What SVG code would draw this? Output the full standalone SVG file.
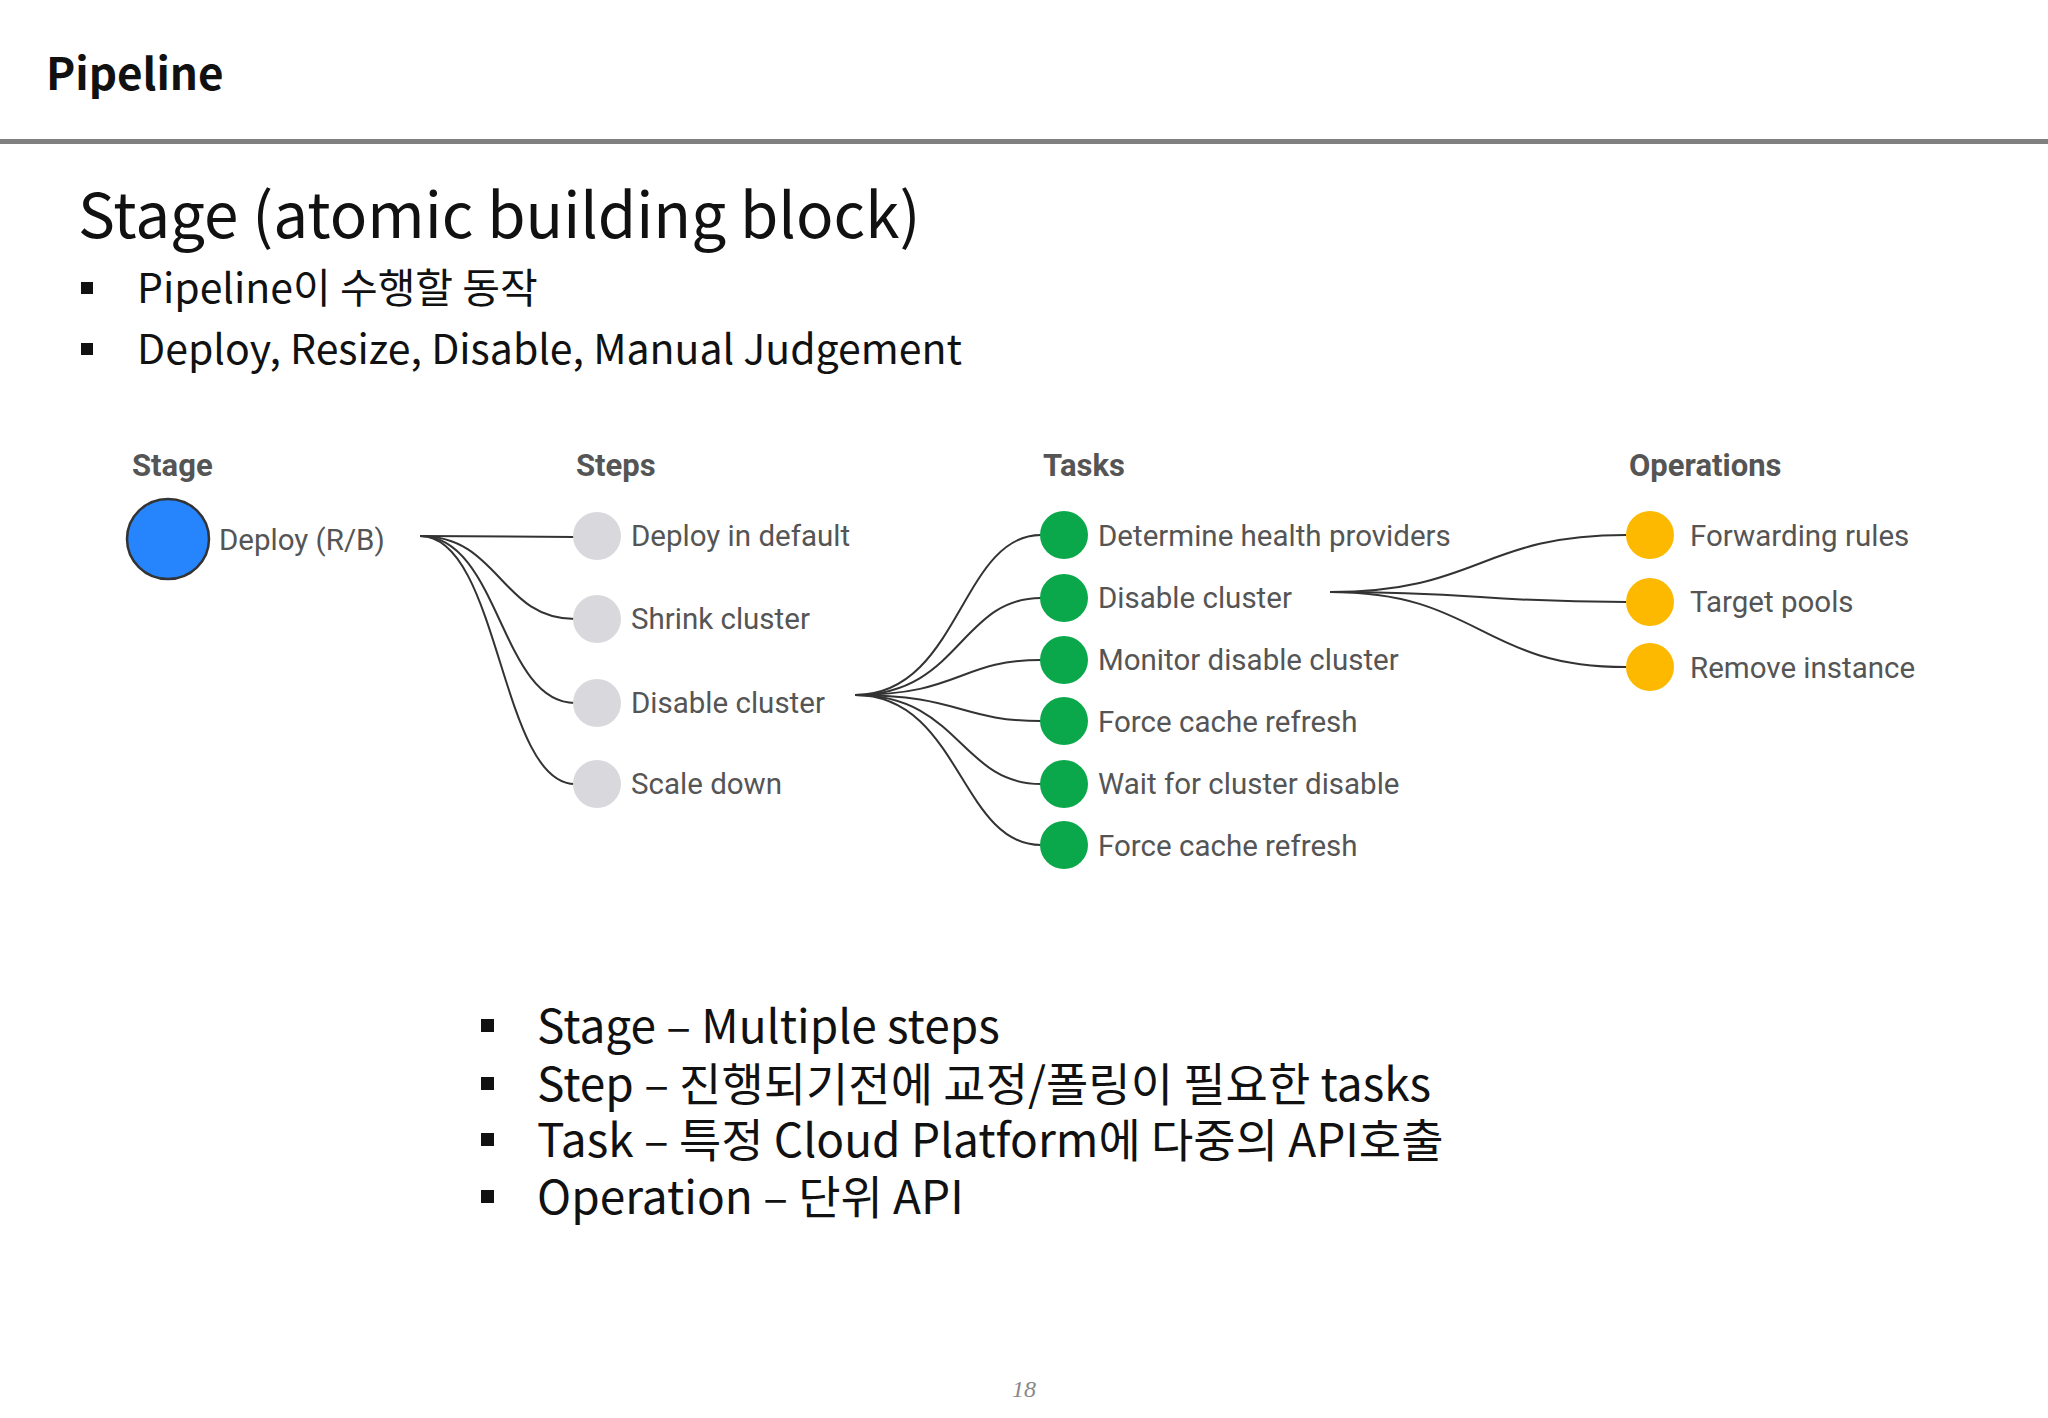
<svg xmlns="http://www.w3.org/2000/svg" width="2048" height="1418" viewBox="0 0 2048 1418">
<style>
.k{font-family:"Noto Sans CJK KR","Noto Sans",sans-serif;fill:#111}
.h{font-family:Roboto,"Liberation Sans",sans-serif;font-weight:bold;font-size:31px;fill:#555}
.l{font-family:Roboto,"Liberation Sans",sans-serif;font-size:29.5px;fill:#555}
.c path{fill:none;stroke:#333;stroke-width:2}
.g{fill:#d9d8dc}.t{fill:#0aa84a}.o{fill:#fdb900}
</style>
<rect width="2048" height="1418" fill="#fff"/>
<text x="46" y="90" class="k" font-size="44" font-weight="bold">Pipeline</text>
<rect x="0" y="139" width="2048" height="5" fill="#808080"/>
<text x="78" y="238" class="k" font-size="62">Stage (atomic building block)</text>
<rect x="81" y="282" width="12" height="12" fill="#111"/>
<text x="137" y="303" class="k" font-size="41">Pipeline이 수행할 동작</text>
<rect x="81" y="343" width="12" height="12" fill="#111"/>
<text x="137" y="364" class="k" font-size="41">Deploy, Resize, Disable, Manual Judgement</text>
<text x="132" y="476" class="h">Stage</text>
<text x="576" y="476" class="h">Steps</text>
<text x="1043" y="476" class="h">Tasks</text>
<text x="1629" y="476" class="h">Operations</text>
<g class="c" id="connectors">
<path d="M420 536 L575 537"/>
<path d="M420 536 C500 536 500 619 575 619"/>
<path d="M420 536 C500 536 500 703 575 703"/>
<path d="M420 536 C500 536 500 784 575 784"/>
<path d="M855 695 C960 695 960 535 1041 535"/>
<path d="M855 695 C960 695 960 598 1041 598"/>
<path d="M855 695 C960 695 960 660 1041 660"/>
<path d="M855 695 C960 695 960 721 1041 721"/>
<path d="M855 695 C960 695 960 784 1041 784"/>
<path d="M855 695 C960 695 960 845 1041 845"/>
<path d="M1330 592 C1480 592 1480 535 1626 535"/>
<path d="M1330 592 C1480 592 1480 602 1626 602"/>
<path d="M1330 592 C1480 592 1480 667 1626 667"/>
</g>
<g id="n-deploy"><ellipse cx="168" cy="539" rx="41" ry="40" fill="#2684fc" stroke="#333" stroke-width="2.5"/><text x="219" y="550" class="l">Deploy (R/B)</text></g>
<g id="s1"><circle cx="597" cy="536" r="24" class="g"/><text x="631" y="546" class="l">Deploy in default</text></g>
<g id="s2"><circle cx="597" cy="619" r="24" class="g"/><text x="631" y="629" class="l">Shrink cluster</text></g>
<g id="s3"><circle cx="597" cy="703" r="24" class="g"/><text x="631" y="713" class="l">Disable cluster</text></g>
<g id="s4"><circle cx="597" cy="784" r="24" class="g"/><text x="631" y="794" class="l">Scale down</text></g>
<g id="t1"><circle cx="1064" cy="535" r="24" class="t"/><text x="1098" y="546" class="l">Determine health providers</text></g>
<g id="t2"><circle cx="1064" cy="598" r="24" class="t"/><text x="1098" y="608" class="l">Disable cluster</text></g>
<g id="t3"><circle cx="1064" cy="660" r="24" class="t"/><text x="1098" y="670" class="l">Monitor disable cluster</text></g>
<g id="t4"><circle cx="1064" cy="721" r="24" class="t"/><text x="1098" y="732" class="l">Force cache refresh</text></g>
<g id="t5"><circle cx="1064" cy="784" r="24" class="t"/><text x="1098" y="794" class="l">Wait for cluster disable</text></g>
<g id="t6"><circle cx="1064" cy="845" r="24" class="t"/><text x="1098" y="856" class="l">Force cache refresh</text></g>
<g id="o1"><circle cx="1650" cy="535" r="24" class="o"/><text x="1690" y="546" class="l">Forwarding rules</text></g>
<g id="o2"><circle cx="1650" cy="602" r="24" class="o"/><text x="1690" y="612" class="l">Target pools</text></g>
<g id="o3"><circle cx="1650" cy="667" r="24" class="o"/><text x="1690" y="678" class="l">Remove instance</text></g>
<g class="k" font-size="46">
<rect x="481" y="1019" width="13" height="13" fill="#111"/>
<text x="537" y="1043">Stage – Multiple steps</text>
<rect x="481" y="1077" width="13" height="13" fill="#111"/>
<text x="537" y="1101">Step – 진행되기전에 교정/폴링이 필요한 tasks</text>
<rect x="481" y="1133" width="13" height="13" fill="#111"/>
<text x="537" y="1157">Task – 특정 Cloud Platform에 다중의 API호출</text>
<rect x="481" y="1190" width="13" height="13" fill="#111"/>
<text x="537" y="1214">Operation – 단위 API</text>
</g>
<text x="1024" y="1397" text-anchor="middle" font-family="Liberation Serif,serif" font-style="italic" font-size="24" fill="#888">18</text>
</svg>
